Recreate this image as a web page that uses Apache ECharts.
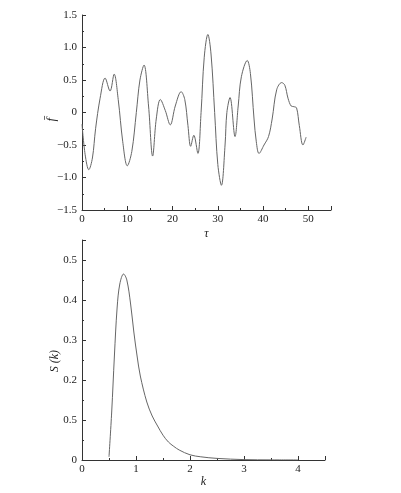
<!DOCTYPE html>
<html><head><meta charset="utf-8">
<script src="https://cdn.jsdelivr.net/npm/echarts@6/dist/echarts.min.js"></script>
<style>html,body{margin:0;padding:0;background:#fff}#c{width:401px;height:493px}</style>
</head><body><div id="c"></div>
<script>
// Top panel: fluctuation f̄ versus τ
const tauValues = [0, 0.7, 1.5, 2.3, 3.0, 4.0, 5.1, 6.2, 7.1, 8.0, 9.0, 10.0, 11.0, 12.0, 12.8, 13.7, 14.7, 15.6, 16.4, 17.3, 18.4, 19.5, 20.6, 21.9, 22.7, 23.4, 24.0, 24.7, 25.6, 26.3, 27.0, 27.8, 28.5, 29.3, 30.0, 30.8, 31.6, 32.0, 32.7, 33.8, 34.5, 35.2, 36.5, 37.2, 38.0, 38.5, 39.1, 40.2, 41.2, 42.0, 43.0, 44.1, 44.8, 45.5, 46.2, 46.8, 47.4, 48.0, 48.8, 49.5];
const fValues = [-0.18, -0.65, -0.88, -0.7, -0.25, 0.22, 0.53, 0.33, 0.59, 0.2, -0.45, -0.82, -0.6, 0.0, 0.5, 0.73, 0.1, -0.67, -0.1, 0.2, 0.03, -0.19, 0.1, 0.32, 0.2, -0.2, -0.52, -0.35, -0.63, 0.0, 0.85, 1.2, 0.9, 0.0, -0.8, -1.12, -0.5, 0.0, 0.23, -0.37, 0.1, 0.55, 0.8, 0.6, -0.1, -0.45, -0.63, -0.5, -0.37, -0.1, 0.35, 0.46, 0.42, 0.22, 0.1, 0.09, 0.07, -0.2, -0.5, -0.38];
// Bottom panel: spectrum S(k)
const kValues = [0.5, 0.55, 0.6, 0.65, 0.7, 0.77, 0.83, 0.9, 0.96, 1.02, 1.08, 1.2, 1.3, 1.4, 1.5, 1.6, 1.7, 1.8, 2.0, 2.2, 2.5, 3.0, 3.5, 4.0];
const sValues = [0.008, 0.12, 0.26, 0.38, 0.44, 0.465, 0.45, 0.39, 0.32, 0.26, 0.21, 0.145, 0.11, 0.085, 0.062, 0.045, 0.034, 0.025, 0.013, 0.008, 0.004, 0.001, 0.0003, 0.0001];
// Tick labels
const topXTickLabels = ['0', '10', '20', '30', '40', '50'];
const topYTickLabels = ['\u22121.5', '\u22121.0', '\u22120.5', '0', '0.5', '1.0', '1.5'];
const bottomXTickLabels = ['0', '1', '2', '3', '4'];
const bottomYTickLabels = ['0', '0.5', '0.2', '0.3', '0.4', '0.5'];

const FONT = 'Liberation Serif';
const AX = '#333';
function axisBase() {
  return {
    axisLine: { show: true, onZero: false, lineStyle: { color: AX, width: 1 } },
    axisTick: { show: true, inside: true, length: 4, lineStyle: { color: AX, width: 1 } },
    minorTick: { show: true, splitNumber: 2, length: 2, lineStyle: { color: AX, width: 1 } },
    splitLine: { show: false },
    minorSplitLine: { show: false },
    nameTextStyle: { fontFamily: FONT, fontStyle: 'italic', fontSize: 12, color: '#222' }
  };
}
const labelStyle = { fontFamily: FONT, fontSize: 11, color: '#222' };

const chart = echarts.init(document.getElementById('c'), null, { renderer: 'canvas' });
chart.setOption({
  backgroundColor: '#fff',
  animation: false,
  grid: [
    { left: 82, top: 15, width: 249, height: 195, outerBoundsMode: 'none' },
    { left: 82, top: 240, width: 243, height: 220, outerBoundsMode: 'none' }
  ],
  xAxis: [
    Object.assign(axisBase(), {
      type: 'value', gridIndex: 0, min: 0, max: 55, interval: 10,
      name: '\u03c4', nameLocation: 'middle', nameGap: 18,
      axisLabel: Object.assign({}, labelStyle, { margin: 4, showMaxLabel: false,
        formatter: v => { const i = Math.round(v / 10); return (Math.abs(v - i * 10) < 1e-6 && i < topXTickLabels.length) ? topXTickLabels[i] : ''; } })
    }),
    Object.assign(axisBase(), {
      type: 'value', gridIndex: 1, min: 0, max: 4.5, interval: 1,
      name: 'k', nameLocation: 'middle', nameGap: 12,
      axisLabel: Object.assign({}, labelStyle, { margin: 4, showMaxLabel: false,
        formatter: v => { const i = Math.round(v); return (Math.abs(v - i) < 1e-6 && i < bottomXTickLabels.length) ? bottomXTickLabels[i] : ''; } })
    })
  ],
  yAxis: [
    Object.assign(axisBase(), {
      type: 'value', gridIndex: 0, min: -1.5, max: 1.5, interval: 0.5,
      axisLabel: Object.assign({}, labelStyle, { margin: 5,
        formatter: v => topYTickLabels[Math.round((v + 1.5) / 0.5)] || '' })
    }),
    Object.assign(axisBase(), {
      type: 'value', gridIndex: 1, min: 0, max: 0.55, interval: 0.1,
      axisLabel: Object.assign({}, labelStyle, { margin: 5, showMaxLabel: false,
        formatter: v => { const i = Math.round(v / 0.1); return (Math.abs(v - i * 0.1) < 1e-6 && i < bottomYTickLabels.length) ? bottomYTickLabels[i] : ''; } })
    })
  ],
  graphic: [
    { type: 'text', left: 45, top: 118, rotation: Math.PI / 2,
      style: { text: 'f\u0304', font: 'italic 13px "Liberation Serif"', fill: '#222' } },
    { type: 'text', left: 49, top: 350, rotation: Math.PI / 2,
      style: { text: 'S (k)', font: 'italic 12px "Liberation Serif"', fill: '#222' } }
  ],
  series: [
    { type: 'line', xAxisIndex: 0, yAxisIndex: 0, showSymbol: false, smooth: 0.35,
      lineStyle: { color: '#666', width: 1 },
      data: tauValues.map((t, i) => [t, fValues[i]]) },
    { type: 'line', xAxisIndex: 1, yAxisIndex: 1, showSymbol: false, smooth: 0.35,
      lineStyle: { color: '#666', width: 1 },
      data: kValues.map((k, i) => [k, sValues[i]]) }
  ]
});
</script>
</body></html>
